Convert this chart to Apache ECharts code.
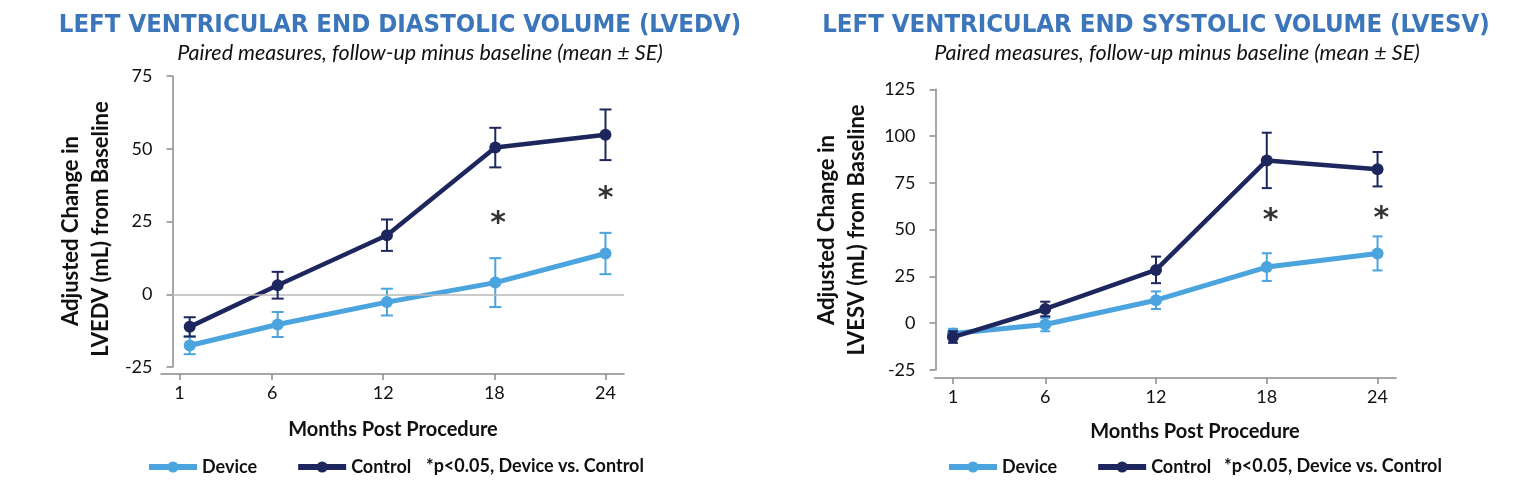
<!DOCTYPE html>
<html><head><meta charset="utf-8">
<script src="https://cdn.jsdelivr.net/npm/echarts@6/dist/echarts.min.js"></script>
<style>html,body{margin:0;padding:0;background:#fff}#c{width:1536px;height:494px}</style>
</head><body><div id="c"></div>
<script>
// ---- data ----
const monthTicks = [1, 6, 12, 18, 24];
const lvedvMonths = [1.55, 6.3, 12.2, 18.05, 24];
const lvesvMonths = [1, 6, 12, 18, 24];
const lvedvDevice = [-17.6, -10.4, -2.7, 4.0, 14.0];
const lvedvDeviceSE = [3.0, 4.3, 4.6, 8.4, 7.1];
const lvedvControl = [-11.2, 3.1, 20.3, 50.4, 54.8];
const lvedvControlSE = [3.3, 4.6, 5.4, 6.8, 8.7];
const lvesvDevice = [-5.5, -0.7, 12.3, 30.0, 37.3];
const lvesvDeviceSE = [2.5, 3.6, 4.7, 7.4, 9.1];
const lvesvControl = [-7.4, 7.6, 28.5, 87.0, 82.3];
const lvesvControlSE = [3.1, 3.9, 7.1, 14.8, 9.2];
const lvedvStars = [[18.2, 26], [24, 34.6]];
const lvesvStars = [[18.2, 57.5], [24.2, 58.8]];

const DEVICE = '#4ba4dd', CONTROL = '#1d275e', AXIS = '#8a8a8a', ZERO = '#b8b8b8';
const FONT = 'Lato, "Open Sans", sans-serif';
const TITLEFONT = '"DejaVu Sans Condensed", Lato, sans-serif';

function lineSeries(name, xs, ys, color, gi, z, width) {
  return { type: 'line', name, xAxisIndex: gi, yAxisIndex: gi, z,
    data: xs.map((x, i) => [x, ys[i]]), symbol: 'circle', symbolSize: 12,
    lineStyle: { color, width }, itemStyle: { color }, emphasis: { disabled: true }, animation: false };
}
function errSeries(xs, ys, se, color, gi, z, capW) {
  return { type: 'custom', xAxisIndex: gi, yAxisIndex: gi, z, silent: true, animation: false,
    data: xs.map((x, i) => [x, ys[i] - se[i], ys[i] + se[i]]),
    encode: { x: 0, y: [1, 2] },
    renderItem(params, api) {
      const x = api.value(0);
      const lo = api.coord([x, api.value(1)]), hi = api.coord([x, api.value(2)]);
      const cx = lo[0], st = { stroke: color, lineWidth: 2 };
      return { type: 'group', children: [
        { type: 'line', shape: { x1: cx, y1: lo[1], x2: cx, y2: hi[1] }, style: st },
        { type: 'line', shape: { x1: cx - capW / 2, y1: lo[1], x2: cx + capW / 2, y2: lo[1] }, style: st },
        { type: 'line', shape: { x1: cx - capW / 2, y1: hi[1], x2: cx + capW / 2, y2: hi[1] }, style: st }
      ] };
    } };
}
function starSeries(pts, gi) {
  return { type: 'scatter', xAxisIndex: gi, yAxisIndex: gi, z: 10, silent: true, symbolSize: 2,
    itemStyle: { color: 'rgba(0,0,0,0)' }, data: pts, animation: false,
    label: { show: true, position: 'inside', formatter: '*', fontSize: 30, fontWeight: 'bold',
      fontFamily: '"DejaVu Sans", sans-serif', color: '#000', textBorderWidth: 0, offset: [0, 6] } };
}
function zeroSeries(x0, x1, gi) {
  return { type: 'line', xAxisIndex: gi, yAxisIndex: gi, z: 1, data: [], silent: true,
    markLine: { silent: true, symbol: 'none', label: { show: false }, animation: false,
      lineStyle: { color: ZERO, width: 1.5, type: 'solid' },
      data: [[{ coord: [x0, 0] }, { coord: [x1, 0] }]] } };
}
function xAxisCfg(gi, offset) {
  return { gridIndex: gi, type: 'value', min: 0, max: 25, offset,
    axisLine: { onZero: false, lineStyle: { color: AXIS, width: 1.5 } },
    axisTick: { show: true, customValues: monthTicks, length: 6, lineStyle: { color: AXIS, width: 1.5 } },
    axisLabel: { customValues: monthTicks, margin: 10, fontSize: 18, fontFamily: FONT, color: '#111' },
    splitLine: { show: false } };
}
function yAxisCfg(gi, min, max, offset) {
  return { gridIndex: gi, type: 'value', min, max, interval: 25, offset,
    axisLine: { show: true, onZero: false, lineStyle: { color: AXIS, width: 1.5 } },
    axisTick: { show: true, length: 6, lineStyle: { color: AXIS, width: 1.5 } },
    axisLabel: { margin: 20, fontSize: 18, fontFamily: FONT, color: '#111' },
    splitLine: { show: false } };
}
function txt(text, x, y, opts) {
  return { type: 'text', x, y, rotation: opts.rot || 0, silent: true,
    style: Object.assign({ text, align: 'center', verticalAlign: 'middle', fill: '#111',
      fontFamily: FONT, fontSize: 18, fontWeight: 'bold' }, opts.style || {}) };
}
const legendCfg = (left) => ({ left, top: 458, padding: 0, itemWidth: 48, itemHeight: 14, itemGap: 38,
  data: ['Device', 'Control'], selectedMode: false,
  lineStyle: { width: 6 },
  textStyle: { fontSize: 18, fontWeight: 'bold', fontFamily: FONT, color: '#111' } });

const chart = echarts.init(document.getElementById('c'), null, { renderer: 'canvas' });
chart.setOption({
  backgroundColor: '#fff',
  animation: false,
  grid: [
    { left: 161, top: 76, width: 463, height: 291 },
    { left: 934.5, top: 89.3, width: 461.5, height: 280.7 }
  ],
  xAxis: [xAxisCfg(0, 7), xAxisCfg(1, 8)],
  yAxis: [yAxisCfg(0, -25, 75, -11.5), yAxisCfg(1, -25, 125, -1)],
  legend: [legendCfg(146), legendCfg(946)],
  series: [
    zeroSeries(0.62, 25, 0),
    lineSeries('Device', lvedvMonths, lvedvDevice, DEVICE, 0, 2, 5),
    errSeries(lvedvMonths, lvedvDevice, lvedvDeviceSE, DEVICE, 0, 3, 12),
    lineSeries('Control', lvedvMonths, lvedvControl, CONTROL, 0, 4, 4.5),
    errSeries(lvedvMonths, lvedvControl, lvedvControlSE, CONTROL, 0, 5, 12),
    starSeries(lvedvStars, 0),
    zeroSeries(0, 25.3, 1),
    lineSeries('Device', lvesvMonths, lvesvDevice, DEVICE, 1, 2, 5),
    errSeries(lvesvMonths, lvesvDevice, lvesvDeviceSE, DEVICE, 1, 3, 10),
    lineSeries('Control', lvesvMonths, lvesvControl, CONTROL, 1, 4, 4.5),
    errSeries(lvesvMonths, lvesvControl, lvesvControlSE, CONTROL, 1, 5, 10),
    starSeries(lvesvStars, 1)
  ],
  graphic: [
    txt('LEFT VENTRICULAR END DIASTOLIC VOLUME (LVEDV)', 400, 25, { style: { fontFamily: TITLEFONT, fontSize: 25.5, fill: '#3b75ba' } }),
    txt('Paired measures, follow-up minus baseline (mean ± SE)', 420, 53, { style: { fontStyle: 'italic', fontWeight: 'normal', fontSize: 21.5 } }),
    txt('LEFT VENTRICULAR END SYSTOLIC VOLUME (LVESV)', 1156, 25, { style: { fontFamily: TITLEFONT, fontSize: 25.5, fill: '#3b75ba' } }),
    txt('Paired measures, follow-up minus baseline (mean ± SE)', 1177, 53, { style: { fontStyle: 'italic', fontWeight: 'normal', fontSize: 21.5 } }),
    txt('Adjusted Change in', 71, 231, { rot: Math.PI / 2, style: { fontSize: 22 } }),
    txt('LVEDV (mL) from Baseline', 101, 229, { rot: Math.PI / 2, style: { fontSize: 22 } }),
    txt('Adjusted Change in', 827, 230, { rot: Math.PI / 2, style: { fontSize: 22 } }),
    txt('LVESV (mL) from Baseline', 857, 230, { rot: Math.PI / 2, style: { fontSize: 22 } }),
    txt('Months Post Procedure', 393, 430, { style: { fontSize: 20 } }),
    txt('Months Post Procedure', 1195, 432, { style: { fontSize: 20 } }),
    txt('*p<0.05, Device vs. Control', 426, 466, { style: { align: 'left' } }),
    txt('*p<0.05, Device vs. Control', 1224, 466, { style: { align: 'left' } })
  ]
});
</script>
</body></html>
